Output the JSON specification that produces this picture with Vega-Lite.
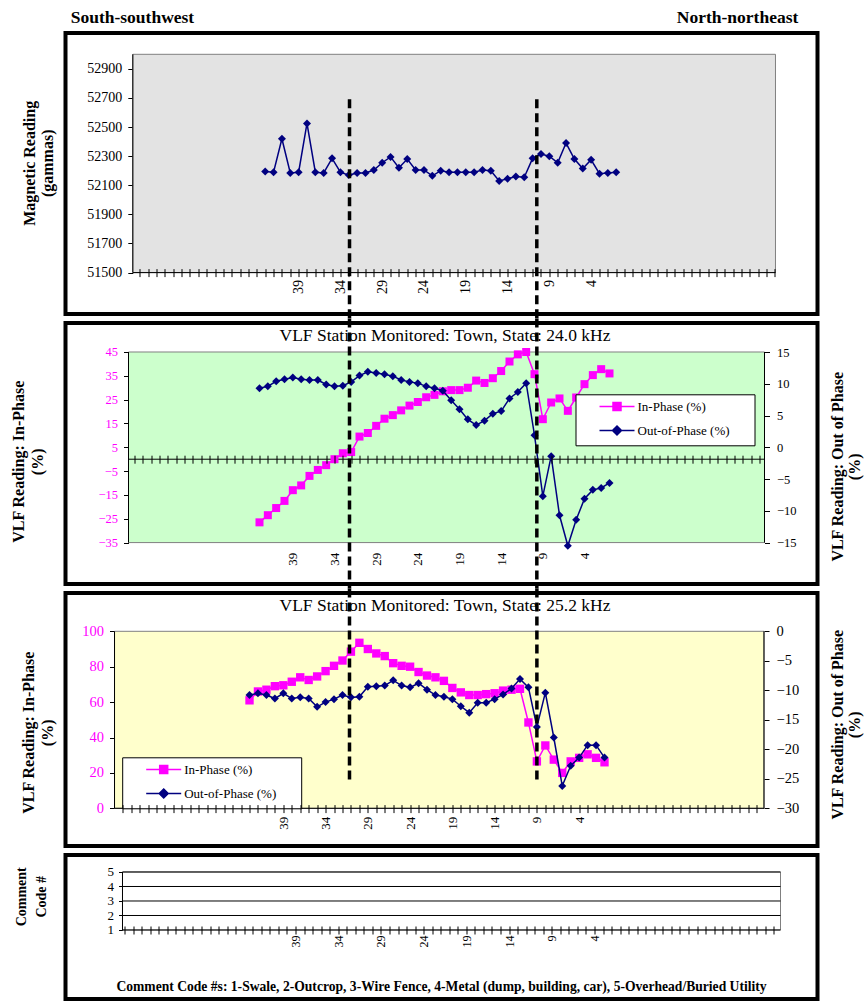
{
"$schema": "https://vega.github.io/schema/vega-lite/v6.json",
"background": "white",
"autosize": {"type": "pad"},
"padding": {"left": 8.5, "top": 6, "right": 0, "bottom": 0},
"config": {
  "font": "Liberation Serif",
  "view": {"stroke": "black", "strokeWidth": 4},
  "axis": {"grid": false, "labelColor": "black", "tickColor": "black", "tickWidth": 1, "titleColor": "black", "labelOverlap": false, "labelFlush": false, "labelFont": "Liberation Serif", "titleFont": "Liberation Serif"},
  "legend": {"labelFont": "Liberation Serif", "titleFont": "Liberation Serif"}
},
"datasets": {
  "mag": [
    {"station":43,"mag":52195},{"station":42,"mag":52190},{"station":41,"mag":52420},{"station":40,"mag":52185},{"station":39,"mag":52190},{"station":38,"mag":52525},{"station":37,"mag":52190},{"station":36,"mag":52185},{"station":35,"mag":52285},{"station":34,"mag":52190},{"station":33,"mag":52170},{"station":32,"mag":52185},{"station":31,"mag":52185},{"station":30,"mag":52205},{"station":29,"mag":52255},{"station":28,"mag":52295},{"station":27,"mag":52220},{"station":26,"mag":52280},{"station":25,"mag":52205},{"station":24,"mag":52205},{"station":23,"mag":52165},{"station":22,"mag":52200},{"station":21,"mag":52190},{"station":20,"mag":52190},{"station":19,"mag":52190},{"station":18,"mag":52190},{"station":17,"mag":52205},{"station":16,"mag":52200},{"station":15,"mag":52130},{"station":14,"mag":52145},{"station":13,"mag":52160},{"station":12,"mag":52155},{"station":11,"mag":52285},{"station":10,"mag":52315},{"station":9,"mag":52300},{"station":8,"mag":52255},{"station":7,"mag":52390},{"station":6,"mag":52280},{"station":5,"mag":52215},{"station":4,"mag":52275},{"station":3,"mag":52180},{"station":2,"mag":52185},{"station":1,"mag":52190}
  ],
  "vlf24": [
    {"station":43,"inph":-26.5,"outph":9.3},{"station":42,"inph":-23.5,"outph":9.6},{"station":41,"inph":-20.5,"outph":10.4},{"station":40,"inph":-17.5,"outph":10.7},{"station":39,"inph":-13,"outph":11},{"station":38,"inph":-11,"outph":10.7},{"station":37,"inph":-7,"outph":10.6},{"station":36,"inph":-4.5,"outph":10.6},{"station":35,"inph":-2.5,"outph":9.9},{"station":34,"inph":0,"outph":9.6},{"station":33,"inph":2.5,"outph":9.7},{"station":32,"inph":3,"outph":10.3},{"station":31,"inph":9.5,"outph":11.3},{"station":30,"inph":11,"outph":11.9},{"station":29,"inph":14,"outph":11.7},{"station":28,"inph":17,"outph":11.5},{"station":27,"inph":18.5,"outph":11.2},{"station":26,"inph":20.5,"outph":10.6},{"station":25,"inph":22.5,"outph":10.3},{"station":24,"inph":24,"outph":10.1},{"station":23,"inph":26,"outph":9.6},{"station":22,"inph":27,"outph":9.3},{"station":21,"inph":28.5,"outph":8.9},{"station":20,"inph":29,"outph":7.4},{"station":19,"inph":29,"outph":6},{"station":18,"inph":30,"outph":4.4},{"station":17,"inph":33,"outph":3.5},{"station":16,"inph":32,"outph":4.2},{"station":15,"inph":34,"outph":5.3},{"station":14,"inph":37,"outph":5.7},{"station":13,"inph":41,"outph":7.7},{"station":12,"inph":44,"outph":8.7},{"station":11,"inph":45,"outph":10.1},{"station":10,"inph":35.7,"outph":1.9},{"station":9,"inph":16.8,"outph":-7.7},{"station":8,"inph":23.8,"outph":-1.4},{"station":7,"inph":25.5,"outph":-10.7},{"station":6,"inph":20.3,"outph":-15.5},{"station":5,"inph":25.9,"outph":-11.4},{"station":4,"inph":31.5,"outph":-8.1},{"station":3,"inph":35.3,"outph":-6.7},{"station":2,"inph":37.8,"outph":-6.4},{"station":1,"inph":36,"outph":-5.6}
  ],
  "vlf25": [
    {"station":43,"inph":61,"outph":-10.8},{"station":42,"inph":66,"outph":-10.5},{"station":41,"inph":67,"outph":-10.8},{"station":40,"inph":69,"outph":-11.4},{"station":39,"inph":69.5,"outph":-10.5},{"station":38,"inph":71.5,"outph":-11.4},{"station":37,"inph":74,"outph":-11.2},{"station":36,"inph":72.5,"outph":-11.4},{"station":35,"inph":74.5,"outph":-12.8},{"station":34,"inph":77.5,"outph":-12},{"station":33,"inph":80.5,"outph":-11.5},{"station":32,"inph":83.5,"outph":-10.8},{"station":31,"inph":88.5,"outph":-11.2},{"station":30,"inph":93.5,"outph":-11.1},{"station":29,"inph":90,"outph":-9.4},{"station":28,"inph":87.5,"outph":-9.3},{"station":27,"inph":86,"outph":-9.2},{"station":26,"inph":82,"outph":-8.3},{"station":25,"inph":80.5,"outph":-9.2},{"station":24,"inph":80,"outph":-9.5},{"station":23,"inph":77,"outph":-8.8},{"station":22,"inph":75,"outph":-9.9},{"station":21,"inph":74,"outph":-10.8},{"station":20,"inph":72,"outph":-11.1},{"station":19,"inph":68,"outph":-11.5},{"station":18,"inph":65.5,"outph":-12.7},{"station":17,"inph":64,"outph":-13.8},{"station":16,"inph":64,"outph":-12.1},{"station":15,"inph":64.5,"outph":-12.1},{"station":14,"inph":65,"outph":-11.5},{"station":13,"inph":66.5,"outph":-10.7},{"station":12,"inph":67,"outph":-9.7},{"station":11,"inph":67.5,"outph":-8.1},{"station":10,"inph":48.5,"outph":-9.5},{"station":9,"inph":26.5,"outph":-16.2},{"station":8,"inph":35.5,"outph":-10.4},{"station":7,"inph":27.5,"outph":-18},{"station":6,"inph":20,"outph":-26.2},{"station":5,"inph":26.5,"outph":-22.8},{"station":4,"inph":28.5,"outph":-21.4},{"station":3,"inph":30.5,"outph":-19.3},{"station":2,"inph":28.5,"outph":-19.3},{"station":1,"inph":26,"outph":-21.4}
  ]
},
"spacing": 9,
"bounds": "flush",
"resolve": {"scale": {"color": "independent"}, "legend": {"color": "independent"}},
"vconcat": [
   {"width": 752, "height": 281,
    "resolve": {"axis": {"x": "independent", "y": "independent"}},
    "layer": [
     {"data": {"values": [{}]}, "mark": {"type": "rect", "fill": "#e3e3e3", "stroke": "#808080", "strokeWidth": 1},
      "encoding": {"x": {"datum": 58.84, "type": "quantitative", "scale": {"domain": [66.896, -23.089], "nice": false, "zero": false}, "axis": null}, "x2": {"datum": -18.06},
                   "y": {"datum": 51500, "type": "quantitative", "scale": {"domain": [51215.5, 53146.4], "nice": false, "zero": false}, "axis": null}, "y2": {"datum": 53000}}},
     {"data": {"values": [{}]}, "mark": {"type": "rule", "color": "black", "strokeWidth": 1},
      "encoding": {"x": {"datum": 58.84, "type": "quantitative", "scale": {"domain": [66.896, -23.089], "nice": false, "zero": false},
                         "axis": {"orient": "bottom", "offset": -45.4, "values": [58,57,56,55,54,53,52,51,50,49,48,47,46,45,44,43,42,41,40,39,38,37,36,35,34,33,32,31,30,29,28,27,26,25,24,23,22,21,20,19,18,17,16,15,14,13,12,11,10,9,8,7,6,5,4,3,2,1,0,-1,-2,-3,-4,-5,-6,-7,-8,-9,-10,-11,-12,-13,-14,-15,-16,-17,-18], "format": "d",
                                  "labelExpr": "indexof([39,34,29,24,19,14,9,4], datum.value) >= 0 ? datum.label : ''", "labelAngle": 270, "labelFontSize": 14, "labelPadding": 3, "tickSize": 8, "domain": false, "title": null, "zindex": 1}},
                   "x2": {"datum": -18.06},
                   "y": {"datum": 51500, "type": "quantitative", "scale": {"domain": [51215.5, 53146.4], "nice": false, "zero": false}, "axis": null}}},
     {"data": {"values": [{}]}, "mark": {"type": "rule", "color": "black", "strokeWidth": 1},
      "encoding": {"x": {"datum": 58.84, "type": "quantitative", "scale": {"domain": [66.896, -23.089], "nice": false, "zero": false}, "axis": null},
                   "y": {"datum": 51500, "type": "quantitative", "scale": {"domain": [51215.5, 53146.4], "nice": false, "zero": false},
                         "axis": {"orient": "left", "offset": -67.3, "values": [51500,51700,51900,52100,52300,52500,52700,52900], "format": "d", "labelFontSize": 14, "labelPadding": 6, "tickSize": 5, "domain": false,
                                  "title": ["Magnetic Reading", "(gammas)"], "titleFontSize": 16, "titleFontWeight": "bold", "titleAngle": 270, "titleBaseline": "middle", "titleAlign": "center", "titleLineHeight": 18, "titleX": -103.3, "titleY": 129.8}},
                   "y2": {"datum": 53000}}},
     {"data": {"name": "mag"}, "mark": {"type": "line", "color": "#000080", "strokeWidth": 1.5, "point": {"shape": "diamond", "size": 64, "filled": true, "color": "#000080"}},
      "encoding": {"x": {"field": "station", "type": "quantitative", "scale": {"domain": [66.896, -23.089], "nice": false, "zero": false}, "axis": null},
                   "y": {"field": "mag", "type": "quantitative", "scale": {"domain": [51215.5, 53146.4], "nice": false, "zero": false}, "axis": null}}},
     {"data": {"values": [{}]}, "mark": {"type": "rule", "color": "black", "strokeWidth": 3.5, "strokeDash": [9, 5]},
      "encoding": {"x": {"datum": 32.91, "type": "quantitative", "scale": {"domain": [66.896, -23.089], "nice": false, "zero": false},
                         "axis": {"orient": "top", "labels": false, "ticks": false, "domain": false, "title": "South-southwest", "titleFontSize": 17.5, "titleFontWeight": "bold", "titleAngle": 0, "titleAlign": "left", "titleBaseline": "alphabetic", "titleX": 4.7, "titleY": -10.7}},
                   "y": {"datum": 52690.8, "type": "quantitative", "scale": {"domain": [51215.5, 53146.4], "nice": false, "zero": false},
                         "axis": {"orient": "right", "labels": false, "ticks": false, "domain": false, "title": "North-northeast", "titleFontSize": 17.5, "titleFontWeight": "bold", "titleAngle": 0, "titleAlign": "right", "titleBaseline": "alphabetic", "titleX": -19.7, "titleY": -10.7}},
                   "y2": {"datum": 51184.6}}},
     {"data": {"values": [{}]}, "mark": {"type": "rule", "color": "black", "strokeWidth": 3.5, "strokeDash": [9, 5]},
      "encoding": {"x": {"datum": 10.5, "type": "quantitative", "scale": {"domain": [66.896, -23.089], "nice": false, "zero": false}, "axis": null},
                   "y": {"datum": 52690.8, "type": "quantitative", "scale": {"domain": [51215.5, 53146.4], "nice": false, "zero": false}, "axis": null},
                   "y2": {"datum": 51184.6}}}
    ]},
   {"width": 752, "height": 261,
    "resolve": {"scale": {"y": "independent"}, "axis": {"x": "independent", "y": "independent"}},
    "layer": [
     {"data": {"values": [{}]}, "mark": {"type": "rect", "fill": "#ccffcc", "stroke": "#808080", "strokeWidth": 1},
      "encoding": {"x": {"datum": 58.72, "type": "quantitative", "scale": {"domain": [66.28, -23.96], "nice": false, "zero": false}, "axis": null}, "x2": {"datum": -17.6},
                   "y": {"datum": 45, "type": "quantitative", "scale": {"domain": [-52.38, 57.17], "nice": false, "zero": false}, "axis": null}, "y2": {"datum": -35}}},
     {"data": {"values": [{}]}, "mark": {"type": "rule", "color": "black", "strokeWidth": 1},
      "encoding": {"x": {"datum": 58.72, "type": "quantitative", "scale": {"domain": [66.28, -23.96], "nice": false, "zero": false},
                         "axis": {"orient": "bottom", "offset": -128.8, "values": [58,57,56,55,54,53,52,51,50,49,48,47,46,45,44,43,42,41,40,39,38,37,36,35,34,33,32,31,30,29,28,27,26,25,24,23,22,21,20,19,18,17,16,15,14,13,12,11,10,9,8,7,6,5,4,3,2,1,0,-1,-2,-3,-4,-5,-6,-7,-8,-9,-10,-11,-12,-13,-14,-15,-16,-17], "labels": false, "ticks": true, "tickSize": 8, "domain": false, "title": null, "zindex": 1}},
                   "x2": {"datum": -17.6},
                   "y": {"datum": 0, "type": "quantitative", "scale": {"domain": [-52.38, 57.17], "nice": false, "zero": false}, "axis": null}}},
     {"data": {"values": [{}]}, "mark": {"type": "rule", "color": "black", "strokeWidth": 1},
      "encoding": {"x": {"datum": 58.72, "type": "quantitative", "scale": {"domain": [66.28, -23.96], "nice": false, "zero": false}, "axis": null},
                   "y": {"datum": 45, "type": "quantitative", "scale": {"domain": [-52.38, 57.17], "nice": false, "zero": false}, "axis": null}, "y2": {"datum": -35}}},
     {"data": {"values": [{}]}, "mark": {"type": "rule", "color": "black", "strokeWidth": 1},
      "encoding": {"x": {"datum": -17.6, "type": "quantitative", "scale": {"domain": [66.28, -23.96], "nice": false, "zero": false}, "axis": null},
                   "y": {"datum": 45, "type": "quantitative", "scale": {"domain": [-52.38, 57.17], "nice": false, "zero": false}, "axis": null}, "y2": {"datum": -35}}},
     {"data": {"name": "vlf24"}, "mark": {"type": "line", "strokeWidth": 1.5, "point": {"shape": "square", "size": 64, "filled": true}},
      "encoding": {"x": {"field": "station", "type": "quantitative", "scale": {"domain": [66.28, -23.96], "nice": false, "zero": false},
                         "axis": {"orient": "bottom", "offset": -41.4, "values": [58,57,56,55,54,53,52,51,50,49,48,47,46,45,44,43,42,41,40,39,38,37,36,35,34,33,32,31,30,29,28,27,26,25,24,23,22,21,20,19,18,17,16,15,14,13,12,11,10,9,8,7,6,5,4,3,2,1,0,-1,-2,-3,-4,-5,-6,-7,-8,-9,-10,-11,-12,-13,-14,-15,-16,-17], "format": "d",
                                  "labelExpr": "indexof([39,34,29,24,19,14,9,4], datum.value) >= 0 ? datum.label : ''", "labelAngle": 270, "labelFontSize": 13, "labelPadding": 9.7, "ticks": false, "tickSize": 0, "domain": false, "title": null}},
                   "y": {"field": "inph", "type": "quantitative", "scale": {"domain": [-52.38, 57.17], "nice": false, "zero": false},
                         "axis": {"orient": "left", "offset": -63, "values": [-35,-25,-15,-5,5,15,25,35,45], "labelColor": "#ff00ff", "labelFontSize": 12.5, "labelPadding": 6, "tickSize": 5, "domain": false,
                                  "title": ["VLF Reading: In-Phase", "(%)"], "titleFontSize": 16, "titleFontWeight": "bold", "titleAngle": 270, "titleBaseline": "middle", "titleAlign": "center", "titleLineHeight": 19, "titleX": -110, "titleY": 138.3}},
                   "color": {"datum": "In-Phase (%)", "type": "nominal", "scale": {"domain": ["In-Phase (%)", "Out-of-Phase (%)"], "range": ["#ff00ff", "#000080"]},
                             "legend": {"orient": "none", "legendX": 510, "legendY": 71.3, "title": ".", "titleOrient": "right", "titleColor": "white", "titlePadding": 19.5, "titleFontSize": 13, "padding": 1.25, "fillColor": "white", "strokeColor": "black", "symbolSize": 400, "symbolStrokeWidth": 1.5, "symbolOffset": 29.25, "labelOffset": 9.5, "rowPadding": -2, "labelFontSize": 13, "labelColor": "black", "labelLimit": 0,
                                        "encode": {"symbols": {"update": {"shape": {"signal": "datum.value === 'In-Phase (%)' ? 'M0,-1M0,1M-1.75,0H1.75M-0.4,-0.4H0.4V0.4H-0.4Z' : 'M0,-1M0,1M-1.75,0H1.75M0,-0.45L0.45,0L0,0.45L-0.45,0Z'"},
                                                                          "fill": {"signal": "datum.value === 'In-Phase (%)' ? '#ff00ff' : '#000080'"},
                                                                          "stroke": {"signal": "datum.value === 'In-Phase (%)' ? '#ff00ff' : '#000080'"},
                                                                          "strokeWidth": {"value": 1.5}, "opacity": {"value": 1}}}}}}}},
     {"data": {"name": "vlf24"}, "mark": {"type": "line", "strokeWidth": 1.5, "point": {"shape": "diamond", "size": 64, "filled": true}},
      "encoding": {"x": {"field": "station", "type": "quantitative", "scale": {"domain": [66.28, -23.96], "nice": false, "zero": false}, "axis": null},
                   "y": {"field": "outph", "type": "quantitative", "scale": {"domain": [-21.52, 19.57], "nice": false, "zero": false},
                         "axis": {"orient": "right", "offset": -53, "values": [-15,-10,-5,0,5,10,15], "labelFontSize": 12.5, "labelPadding": 7, "tickSize": 5, "domain": false,
                                  "title": ["VLF Reading: Out of Phase", "(%)"], "titleFontSize": 16, "titleFontWeight": "bold", "titleAngle": 270, "titleBaseline": "middle", "titleAlign": "center", "titleLineHeight": 17, "titleX": 73, "titleY": 143.3}},
                   "color": {"datum": "Out-of-Phase (%)", "type": "nominal", "scale": {"domain": ["In-Phase (%)", "Out-of-Phase (%)"], "range": ["#ff00ff", "#000080"]},
                             "legend": {"orient": "none", "legendX": 510, "legendY": 71.3, "title": ".", "titleOrient": "right", "titleColor": "white", "titlePadding": 19.5, "titleFontSize": 13, "padding": 1.25, "fillColor": "white", "strokeColor": "black", "symbolSize": 400, "symbolStrokeWidth": 1.5, "symbolOffset": 29.25, "labelOffset": 9.5, "rowPadding": -2, "labelFontSize": 13, "labelColor": "black", "labelLimit": 0,
                                        "encode": {"symbols": {"update": {"shape": {"signal": "datum.value === 'In-Phase (%)' ? 'M0,-1M0,1M-1.75,0H1.75M-0.4,-0.4H0.4V0.4H-0.4Z' : 'M0,-1M0,1M-1.75,0H1.75M0,-0.45L0.45,0L0,0.45L-0.45,0Z'"},
                                                                          "fill": {"signal": "datum.value === 'In-Phase (%)' ? '#ff00ff' : '#000080'"},
                                                                          "stroke": {"signal": "datum.value === 'In-Phase (%)' ? '#ff00ff' : '#000080'"},
                                                                          "strokeWidth": {"value": 1.5}, "opacity": {"value": 1}}}}}}}},
     {"data": {"values": [{}]}, "mark": {"type": "rule", "color": "black", "strokeWidth": 3.5, "strokeDash": [9, 5]},
      "encoding": {"x": {"datum": 32.2, "type": "quantitative", "scale": {"domain": [66.28, -23.96], "nice": false, "zero": false},
                         "axis": {"orient": "top", "labels": false, "ticks": false, "domain": false, "title": "VLF Station Monitored: Town, State: 24.0 kHz", "titleFontSize": 17.5, "titleFontWeight": "normal", "titleAngle": 0, "titleAlign": "center", "titleBaseline": "alphabetic", "titleX": 379, "titleY": 17.3}},
                   "y": {"datum": 59.06, "type": "quantitative", "scale": {"domain": [-52.38, 57.17], "nice": false, "zero": false}, "axis": null},
                   "y2": {"datum": -54.27}}},
     {"data": {"values": [{}]}, "mark": {"type": "rule", "color": "black", "strokeWidth": 3.5, "strokeDash": [9, 5]},
      "encoding": {"x": {"datum": 9.72, "type": "quantitative", "scale": {"domain": [66.28, -23.96], "nice": false, "zero": false}, "axis": null},
                   "y": {"datum": 59.06, "type": "quantitative", "scale": {"domain": [-52.38, 57.17], "nice": false, "zero": false}, "axis": null},
                   "y2": {"datum": -54.27}}}
    ]},
   {"width": 752, "height": 253,
    "resolve": {"scale": {"y": "independent"}, "axis": {"x": "independent", "y": "independent"}},
    "layer": [
     {"data": {"values": [{}]}, "mark": {"type": "rect", "fill": "#ffffcc", "stroke": "#808080", "strokeWidth": 1},
      "encoding": {"x": {"datum": 58.97, "type": "quantitative", "scale": {"domain": [64.77, -24.2], "nice": false, "zero": false}, "axis": null}, "x2": {"datum": -17.87},
                   "y": {"datum": 0, "type": "quantitative", "scale": {"domain": [-21.3, 121.64], "nice": false, "zero": false}, "axis": null}, "y2": {"datum": 100}}},
     {"data": {"values": [{}]}, "mark": {"type": "rule", "color": "black", "strokeWidth": 1},
      "encoding": {"x": {"datum": 58.97, "type": "quantitative", "scale": {"domain": [64.77, -24.2], "nice": false, "zero": false}, "axis": null}, "x2": {"datum": -17.87},
                   "y": {"datum": 0, "type": "quantitative", "scale": {"domain": [-21.3, 121.64], "nice": false, "zero": false}, "axis": null}}},
     {"data": {"values": [{}]}, "mark": {"type": "rule", "color": "black", "strokeWidth": 1},
      "encoding": {"x": {"datum": 58.97, "type": "quantitative", "scale": {"domain": [64.77, -24.2], "nice": false, "zero": false}, "axis": null},
                   "y": {"datum": 0, "type": "quantitative", "scale": {"domain": [-21.3, 121.64], "nice": false, "zero": false}, "axis": null}, "y2": {"datum": 100}}},
     {"data": {"values": [{}]}, "mark": {"type": "rule", "color": "black", "strokeWidth": 1},
      "encoding": {"x": {"datum": -17.87, "type": "quantitative", "scale": {"domain": [64.77, -24.2], "nice": false, "zero": false}, "axis": null},
                   "y": {"datum": 0, "type": "quantitative", "scale": {"domain": [-21.3, 121.64], "nice": false, "zero": false}, "axis": null}, "y2": {"datum": 100}}},
     {"data": {"name": "vlf25"}, "mark": {"type": "line", "strokeWidth": 1.5, "point": {"shape": "square", "size": 70, "filled": true}},
      "encoding": {"x": {"field": "station", "type": "quantitative", "scale": {"domain": [64.77, -24.2], "nice": false, "zero": false},
                         "axis": {"orient": "bottom", "offset": -41.4, "values": [58,57,56,55,54,53,52,51,50,49,48,47,46,45,44,43,42,41,40,39,38,37,36,35,34,33,32,31,30,29,28,27,26,25,24,23,22,21,20,19,18,17,16,15,14,13,12,11,10,9,8,7,6,5,4,3,2,1,0,-1,-2,-3,-4,-5,-6,-7,-8,-9,-10,-11,-12,-13,-14,-15,-16,-17], "format": "d",
                                  "labelExpr": "indexof([39,34,29,24,19,14,9,4], datum.value) >= 0 ? datum.label : ''", "labelAngle": 270, "labelFontSize": 13, "labelPadding": 3.7, "tickSize": 8, "domain": false, "title": null, "zindex": 1}},
                   "y": {"field": "inph", "type": "quantitative", "scale": {"domain": [-21.3, 121.64], "nice": false, "zero": false},
                         "axis": {"orient": "left", "offset": -49, "values": [0,20,40,60,80,100], "labelColor": "#ff00ff", "labelFontSize": 14.5, "labelPadding": 6, "tickSize": 5, "domain": false,
                                  "title": ["VLF Reading: In-Phase", "(%)"], "titleFontSize": 16, "titleFontWeight": "bold", "titleAngle": 270, "titleBaseline": "middle", "titleAlign": "center", "titleLineHeight": 19.5, "titleX": -86.2, "titleY": 139.3}},
                   "color": {"datum": "In-Phase (%)", "type": "nominal", "scale": {"domain": ["In-Phase (%)", "Out-of-Phase (%)"], "range": ["#ff00ff", "#000080"]},
                             "legend": {"orient": "none", "legendX": 56.7, "legendY": 164.3, "title": ".", "titleOrient": "right", "titleColor": "white", "titlePadding": 19.5, "titleFontSize": 13, "padding": 1.25, "fillColor": "white", "strokeColor": "black", "symbolSize": 400, "symbolStrokeWidth": 1.5, "symbolOffset": 29.25, "labelOffset": 9.5, "rowPadding": -2, "labelFontSize": 13, "labelColor": "black", "labelLimit": 0,
                                        "encode": {"symbols": {"update": {"shape": {"signal": "datum.value === 'In-Phase (%)' ? 'M0,-1M0,1M-1.75,0H1.75M-0.4,-0.4H0.4V0.4H-0.4Z' : 'M0,-1M0,1M-1.75,0H1.75M0,-0.45L0.45,0L0,0.45L-0.45,0Z'"},
                                                                          "fill": {"signal": "datum.value === 'In-Phase (%)' ? '#ff00ff' : '#000080'"},
                                                                          "stroke": {"signal": "datum.value === 'In-Phase (%)' ? '#ff00ff' : '#000080'"},
                                                                          "strokeWidth": {"value": 1.5}, "opacity": {"value": 1}}}}}}}},
     {"data": {"name": "vlf25"}, "mark": {"type": "line", "strokeWidth": 1.5, "point": {"shape": "diamond", "size": 64, "filled": true}},
      "encoding": {"x": {"field": "station", "type": "quantitative", "scale": {"domain": [64.77, -24.2], "nice": false, "zero": false}, "axis": null},
                   "y": {"field": "outph", "type": "quantitative", "scale": {"domain": [-36.39, 6.49], "nice": false, "zero": false},
                         "axis": {"orient": "right", "offset": -53.5, "values": [-30,-25,-20,-15,-10,-5,0], "labelFontSize": 14.5, "labelPadding": 7, "tickSize": 5, "domain": false,
                                  "title": ["VLF Reading: Out of Phase", "(%)"], "titleFontSize": 16, "titleFontWeight": "bold", "titleAngle": 270, "titleBaseline": "middle", "titleAlign": "center", "titleLineHeight": 17, "titleX": 73.5, "titleY": 131.3}},
                   "color": {"datum": "Out-of-Phase (%)", "type": "nominal", "scale": {"domain": ["In-Phase (%)", "Out-of-Phase (%)"], "range": ["#ff00ff", "#000080"]},
                             "legend": {"orient": "none", "legendX": 56.7, "legendY": 164.3, "title": ".", "titleOrient": "right", "titleColor": "white", "titlePadding": 19.5, "titleFontSize": 13, "padding": 1.25, "fillColor": "white", "strokeColor": "black", "symbolSize": 400, "symbolStrokeWidth": 1.5, "symbolOffset": 29.25, "labelOffset": 9.5, "rowPadding": -2, "labelFontSize": 13, "labelColor": "black", "labelLimit": 0,
                                        "encode": {"symbols": {"update": {"shape": {"signal": "datum.value === 'In-Phase (%)' ? 'M0,-1M0,1M-1.75,0H1.75M-0.4,-0.4H0.4V0.4H-0.4Z' : 'M0,-1M0,1M-1.75,0H1.75M0,-0.45L0.45,0L0,0.45L-0.45,0Z'"},
                                                                          "fill": {"signal": "datum.value === 'In-Phase (%)' ? '#ff00ff' : '#000080'"},
                                                                          "stroke": {"signal": "datum.value === 'In-Phase (%)' ? '#ff00ff' : '#000080'"},
                                                                          "strokeWidth": {"value": 1.5}, "opacity": {"value": 1}}}}}}}},
     {"data": {"values": [{}]}, "mark": {"type": "rule", "color": "black", "strokeWidth": 3.5, "strokeDash": [9, 5]},
      "encoding": {"x": {"datum": 31.17, "type": "quantitative", "scale": {"domain": [64.77, -24.2], "nice": false, "zero": false},
                         "axis": {"orient": "top", "labels": false, "ticks": false, "domain": false, "title": "VLF Station Monitored: Town, State: 25.2 kHz", "titleFontSize": 17.5, "titleFontWeight": "normal", "titleAngle": 0, "titleAlign": "center", "titleBaseline": "alphabetic", "titleX": 379, "titleY": 17}},
                   "y": {"datum": 124.18, "type": "quantitative", "scale": {"domain": [-21.3, 121.64], "nice": false, "zero": false}, "axis": null},
                   "y2": {"datum": 15.82}}},
     {"data": {"values": [{}]}, "mark": {"type": "rule", "color": "black", "strokeWidth": 3.5, "strokeDash": [9, 5]},
      "encoding": {"x": {"datum": 9.0, "type": "quantitative", "scale": {"domain": [64.77, -24.2], "nice": false, "zero": false}, "axis": null},
                   "y": {"datum": 124.18, "type": "quantitative", "scale": {"domain": [-21.3, 121.64], "nice": false, "zero": false}, "axis": null},
                   "y2": {"datum": 15.82}}}
    ]},
   {"width": 752, "height": 144,
    "resolve": {"axis": {"x": "independent", "y": "independent"}},
    "layer": [
     {"data": {"values": [{}]}, "mark": {"type": "rect", "fill": "white", "stroke": "#808080", "strokeWidth": 1},
      "encoding": {"x": {"datum": 59.25, "type": "quantitative", "scale": {"domain": [65.92, -22.1], "nice": false, "zero": false}, "axis": null}, "x2": {"datum": -17.77},
                   "y": {"datum": 1, "type": "quantitative", "scale": {"domain": [-3.759, 6.172], "nice": false, "zero": false}, "axis": null}, "y2": {"datum": 5}}},
     {"data": {"values": [{}]}, "mark": {"type": "rule", "color": "black", "strokeWidth": 1},
      "encoding": {"x": {"datum": 59.25, "type": "quantitative", "scale": {"domain": [65.92, -22.1], "nice": false, "zero": false}, "axis": null}, "x2": {"datum": -17.77},
                   "y": {"datum": 2, "type": "quantitative", "scale": {"domain": [-3.759, 6.172], "nice": false, "zero": false}, "axis": null}}},
     {"data": {"values": [{}]}, "mark": {"type": "rule", "color": "black", "strokeWidth": 1},
      "encoding": {"x": {"datum": 59.25, "type": "quantitative", "scale": {"domain": [65.92, -22.1], "nice": false, "zero": false}, "axis": null}, "x2": {"datum": -17.77},
                   "y": {"datum": 3, "type": "quantitative", "scale": {"domain": [-3.759, 6.172], "nice": false, "zero": false}, "axis": null}}},
     {"data": {"values": [{}]}, "mark": {"type": "rule", "color": "black", "strokeWidth": 1},
      "encoding": {"x": {"datum": 59.25, "type": "quantitative", "scale": {"domain": [65.92, -22.1], "nice": false, "zero": false}, "axis": null}, "x2": {"datum": -17.77},
                   "y": {"datum": 4, "type": "quantitative", "scale": {"domain": [-3.759, 6.172], "nice": false, "zero": false}, "axis": null}}},
     {"data": {"values": [{}]}, "mark": {"type": "rule", "color": "black", "strokeWidth": 1},
      "encoding": {"x": {"datum": 59.25, "type": "quantitative", "scale": {"domain": [65.92, -22.1], "nice": false, "zero": false}, "axis": null}, "x2": {"datum": -17.77},
                   "y": {"datum": 5, "type": "quantitative", "scale": {"domain": [-3.759, 6.172], "nice": false, "zero": false}, "axis": null}}},
     {"data": {"values": [{}]}, "mark": {"type": "rule", "color": "black", "strokeWidth": 1},
      "encoding": {"x": {"datum": 59.25, "type": "quantitative", "scale": {"domain": [65.92, -22.1], "nice": false, "zero": false},
                         "axis": {"orient": "bottom", "offset": -73, "values": [59,58,57,56,55,54,53,52,51,50,49,48,47,46,45,44,43,42,41,40,39,38,37,36,35,34,33,32,31,30,29,28,27,26,25,24,23,22,21,20,19,18,17,16,15,14,13,12,11,10,9,8,7,6,5,4,3,2,1,0,-1,-2,-3,-4,-5,-6,-7,-8,-9,-10,-11,-12,-13,-14,-15,-16,-17], "format": "d",
                                  "labelExpr": "indexof([39,34,29,24,19,14,9,4], datum.value) >= 0 ? datum.label : ''", "labelAngle": 270, "labelFontSize": 12, "labelPadding": 1, "tickSize": 8, "domain": false, "zindex": 1,
                                  "title": "Comment Code #s: 1-Swale, 2-Outcrop, 3-Wire Fence, 4-Metal (dump, building, car), 5-Overhead/Buried Utility", "titleFontSize": 13.6, "titleFontWeight": "bold", "titleAngle": 0, "titleAlign": "center", "titleBaseline": "alphabetic", "titleX": 375.5, "titleY": 64}},
                   "x2": {"datum": -17.77},
                   "y": {"datum": 1, "type": "quantitative", "scale": {"domain": [-3.759, 6.172], "nice": false, "zero": false}, "axis": null}}},
     {"data": {"values": [{}]}, "mark": {"type": "rule", "color": "black", "strokeWidth": 1},
      "encoding": {"x": {"datum": 59.25, "type": "quantitative", "scale": {"domain": [65.92, -22.1], "nice": false, "zero": false}, "axis": null},
                   "y": {"datum": 1, "type": "quantitative", "scale": {"domain": [-3.759, 6.172], "nice": false, "zero": false},
                         "axis": {"orient": "left", "offset": -57, "values": [1,2,3,4,5], "format": "d", "labelFontSize": 13, "labelPadding": 5, "tickSize": 4, "domain": false,
                                  "title": ["Comment", "Code #"], "titleFontSize": 14, "titleFontWeight": "bold", "titleAngle": 270, "titleBaseline": "middle", "titleAlign": "center", "titleLineHeight": 19.5, "titleX": -101, "titleY": 41.3}},
                   "y2": {"datum": 5}}}
    ]}
]
}
